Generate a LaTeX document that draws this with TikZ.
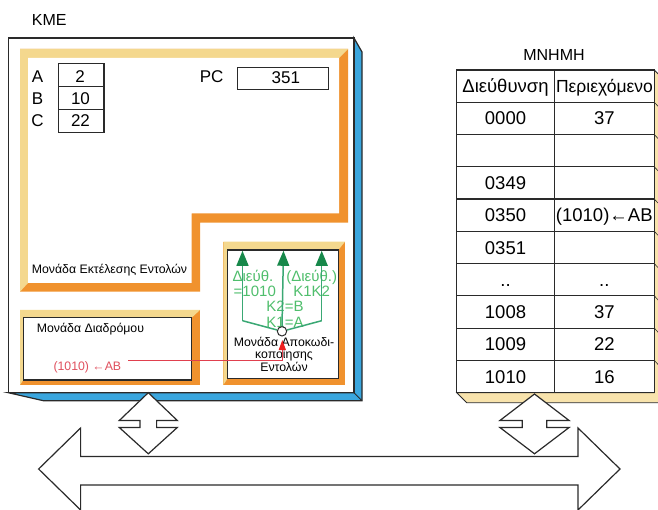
\documentclass[tikz,border=0pt]{standalone}
\usepackage{fontspec}
\setmainfont{Liberation Sans}
\usetikzlibrary{arrows.meta}
\definecolor{bandY}{HTML}{F4D88E}
\definecolor{bandO}{HTML}{F0922E}
\definecolor{sideB}{HTML}{3AA6DE}
\definecolor{memY}{HTML}{F8E3AC}
\definecolor{gHead}{HTML}{17884A}
\definecolor{gLine}{HTML}{3AA874}
\definecolor{gText}{HTML}{4FBE6C}
\definecolor{rLine}{HTML}{E0404E}
\definecolor{rText}{HTML}{E0505E}
\definecolor{rHead}{HTML}{EE2020}
\definecolor{ink}{HTML}{2A2A2A}
\tikzset{
  outl/.style={draw=ink, line width=1.2pt},
  lbl/.style={anchor=base, inner sep=0pt, text=black},
  f16/.style={font=\fontsize{16}{19}\selectfont},
  f17/.style={font=\fontsize{17}{20}\selectfont},
  small/.style={font=\fontsize{12.3}{13}\selectfont},
  gtxt/.style={anchor=base, inner sep=0pt, text=gText, font=\fontsize{15}{15}\selectfont},
  cell/.style={anchor=base, inner sep=0pt, font=\fontsize{18.5}{20}\selectfont},
  hcell/.style={anchor=base, inner sep=0pt},
  garrow/.style={draw=gLine, line width=1.5pt, -{Triangle[length=15pt,width=12pt,color=gHead]}},
  gline/.style={draw=gLine, line width=1.5pt},
  rarrow/.style={draw=rLine, line width=1pt, -{Triangle[length=10pt,width=7pt,color=rHead]}},
  bidir/.style={draw=ink, line width=1.2pt, fill=white}
}
\begin{document}
\begin{tikzpicture}[x=1pt,y=-1pt, line join=miter]
\useasboundingbox (0,0) rectangle (658,510);

% ---------- bus ----------
\path[bidir] (38.6,469) -- (80.6,428) -- (80.6,456.5) -- (578,456.5) -- (578,428) -- (620,469)
  -- (578,510) -- (578,485) -- (80.6,485) -- (80.6,510) -- cycle;

% ---------- CPU box ----------
\node[lbl, f16, anchor=base west] (kme) at (31.7,26) {KME};
\path[outl, fill=sideB] (354,38) -- (362,52) -- (362,400.7) -- (43.3,400.7) -- (8.3,392.7) -- (354,392.7) -- cycle;
\path[outl, fill=white] (8.3,38) rectangle (354,392.7);
\draw[ink, line width=0.8pt] (354,392.7) -- (362,400.7);

% execution unit frame
\fill[bandO] (20,49) -- (348,49) -- (348,222.7) -- (200,222.7) -- (200,291.7) -- (20,291.7) -- cycle;
\fill[bandY] (20,49) -- (348,49) -- (339,58) -- (28,58) -- (28,283) -- (20,291.7) -- cycle;
\fill[white] (28,58) -- (339,58) -- (339,213.3) -- (191.7,213.3) -- (191.7,283) -- (28,283) -- cycle;
\node[lbl, small, anchor=base west] (exec) at (31.7,273.7) {Μονάδα Εκτέλεσης Εντολών};

% registers
\path[outl] (58.3,63.3) rectangle (104,132.3);
\draw[ink, line width=1.2pt] (58.3,86.7) -- (104,86.7) (58.3,109.3) -- (104,109.3);
\node[lbl, f17] (la) at (37.5,82.2) {A};
\node[lbl, f17] (lb) at (37.5,104.5) {B};
\node[lbl, f17] (lc) at (37.5,126.9) {C};
\node[lbl, f17] (va) at (80,82.2) {2};
\node[lbl, f17] (vb) at (80.5,104.5) {10};
\node[lbl, f17] (vc) at (80.5,126.9) {22};
\node[lbl, f17] (pc) at (211.7,83) {PC};
\path[outl] (237.7,67.3) rectangle (328.3,89.3);
\node[lbl, f17] (pcv) at (285.8,83.5) {351};

% routing unit
\fill[bandO] (20,310) rectangle (200,385);
\fill[bandY] (20,310) -- (200,310) -- (191.7,317.7) -- (23.3,317.7) -- (23.3,380) -- (20,385) -- cycle;
\path[outl, fill=white] (23.3,317.7) rectangle (191.7,380);
\node[lbl, small, anchor=base west] (route) at (36.7,332) {Μονάδα Διαδρόμου};
\node[lbl, small, anchor=base west, text=rText] (rtxt) at (53.3,370) {(1010) ←AB};

% decoder unit
\fill[bandO] (223.3,241.7) rectangle (345,385);
\fill[bandY] (223.3,241.7) -- (345,241.7) -- (338.3,250) -- (227.7,250) -- (227.7,378.3) -- (223.3,385) -- cycle;
\path[outl, fill=white] (227.7,250) rectangle (338.3,378.3);
\node[lbl, small] (d1) at (284,346.5) {Μονάδα Αποκωδι-};
\node[lbl, small] (d2) at (284,358.8) {κοποίησης};
\node[lbl, small] (d3) at (284,371.2) {Εντολών};

\node[gtxt] (g1) at (253,282) {Διεύθ.};
\node[gtxt] (g2) at (254.8,297) {=1010};
\node[gtxt] (g3) at (311.7,282) {(Διεύθ.)};
\node[gtxt] (g4) at (311.7,297) {K1K2};
\node[gtxt] (g5) at (285,312) {K2=B};
\node[gtxt] (g6) at (285,327) {K1=A};

\node[circle, draw=ink, fill=white, line width=1pt, minimum size=9.4pt, inner sep=0pt] (hub) at (282,331.3) {};
\coordinate (cL) at (242.5,320.7);
\coordinate (tL) at (242.5,250.8);
\coordinate (cR) at (321.7,320.7);
\coordinate (tR) at (321.7,250.8);
\coordinate (tM) at (283.5,250.8);
\draw[gline] (hub) -- (cL);
\draw[garrow] (cL) -- (tL);
\draw[gline] (hub) -- (cR);
\draw[garrow] (cR) -- (tR);
\draw[garrow] (hub.north) -- (tM);

\coordinate (rs) at (128.3,360);
\coordinate (rt) at (282.3,340);
\draw[rarrow] (rs) -| (rt);

% ---------- memory ----------
\node[lbl, f16] (mem) at (554,60.7) {MNHMH};
\path[draw=ink, line width=0.8pt, fill=memY] (654.3,70) -- (662,78) -- (662,402.7) -- (466.7,402.7) -- (456.7,392.7) -- (654.3,392.7) -- cycle;
\path[outl, fill=white] (456.7,70) rectangle (654.3,392.7);
\draw[ink, line width=1.2pt] (554.3,70) -- (554.3,392.7);
\foreach \i in {1,...,9} {
  \draw[ink, line width=1.2pt] (456.7,70+32.27*\i) -- (654.3,70+32.27*\i);
  \draw[ink, line width=0.6pt] (654.3,70+32.27*\i) -- (658.5,74.5+32.27*\i);
}
\node[hcell, font=\fontsize{18.5}{20}\selectfont] (h1) at (505.5,92.8) {Διεύθυνση};
\node[hcell, font=\fontsize{17.5}{20}\selectfont] (h2) at (604.5,92.8) {Περιεχόμενο};
\node[cell] (a0) at (505.5,125.0) {0000};
\node[cell] (c0) at (604.3,125.0) {37};
\node[cell] (a3) at (505.5,189.6) {0349};
\node[cell] (a4) at (505.5,221.8) {0350};
\node[cell] (c4) at (604.3,221.8) {(1010)←AB};
\node[cell] (a5) at (505.5,254.1) {0351};
\node[cell] (a6) at (505.5,286.4) {..};
\node[cell] (c6) at (604.3,286.4) {..};
\node[cell] (a7) at (505.5,318.7) {1008};
\node[cell] (c7) at (604.3,318.7) {37};
\node[cell] (a8) at (505.5,350.9) {1009};
\node[cell] (c8) at (604.3,350.9) {22};
\node[cell] (a9) at (505.5,383.2) {1010};
\node[cell] (c9) at (604.3,383.2) {16};

% ---------- connectors to bus ----------
\path[bidir] (148.3,392.7) -- (177.3,420.5) -- (156.6,420.5) -- (156.6,427.5) -- (177.3,427.5) -- (148.3,453.8)
  -- (119.3,427.5) -- (140,427.5) -- (140,420.5) -- (119.3,420.5) -- cycle;
\path[bidir] (534.5,394) -- (569.1,420.5) -- (546.7,420.5) -- (546.7,427.5) -- (569.1,427.5) -- (534.5,453.8)
  -- (499.9,427.5) -- (522.3,427.5) -- (522.3,420.5) -- (499.9,420.5) -- cycle;
\end{tikzpicture}
\end{document}
